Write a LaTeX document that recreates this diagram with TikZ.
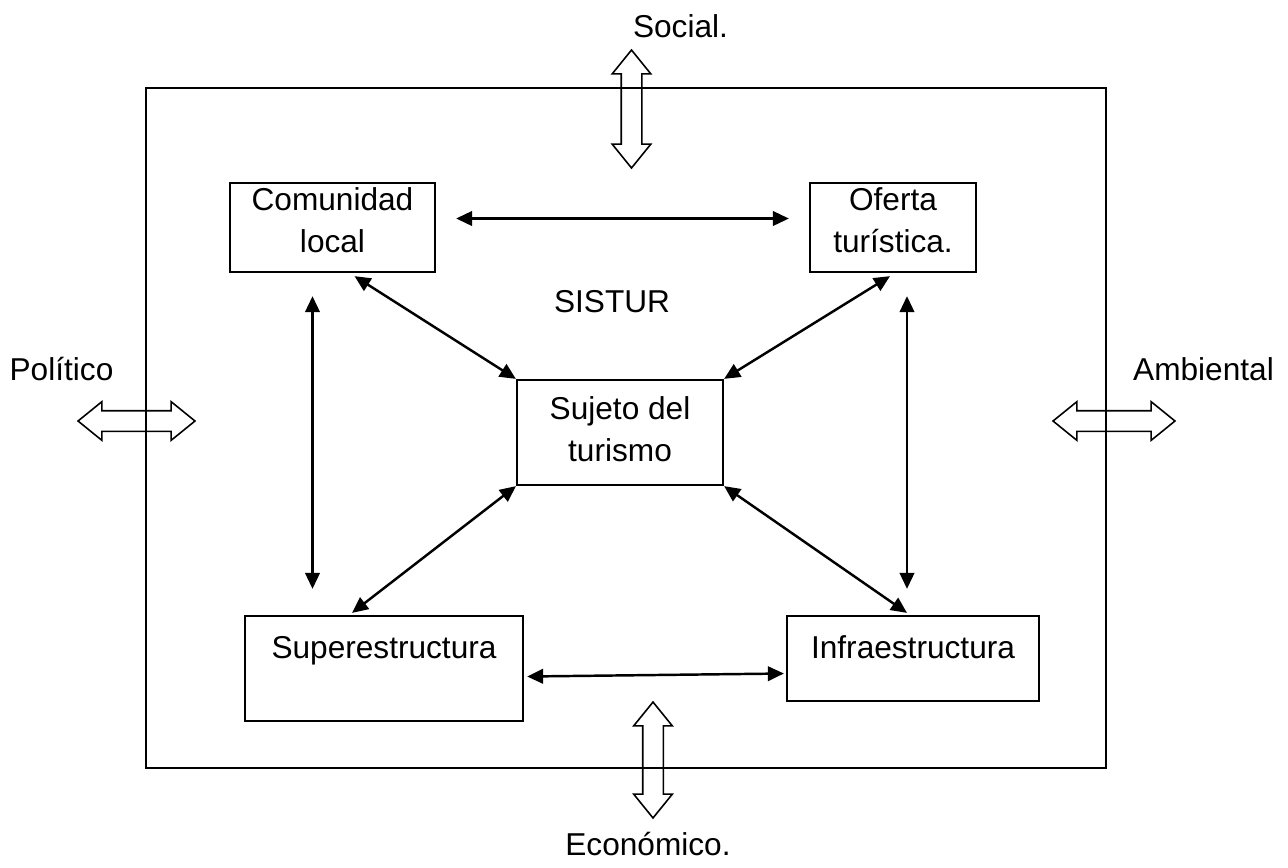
\documentclass[tikz,border=0pt]{standalone}
\usepackage{fontspec}
\setmainfont{Liberation Sans}
\usetikzlibrary{arrows.meta,shapes.arrows,calc}
\tikzset{
  caja/.style={draw, line width=1.3pt, inner sep=0pt, align=center},
  enlace/.style={{Triangle[length=0.32cm,width=0.29cm]}-{Triangle[length=0.32cm,width=0.29cm]}, line width=1.4pt},
  flecha/.style={double arrow, draw, line width=0.9pt, inner xsep=0pt, inner ysep=0.19cm,
    double arrow head extend=0.18cm, double arrow tip angle=78}
}
\begin{document}
\begin{tikzpicture}[x=0.02cm,y=-0.02cm,font=\fontsize{18}{23.9}\selectfont]
\useasboundingbox (0,0) rectangle (1288,867);
\draw[line width=1.1pt] (146,88) rectangle (1106,768);
\node[caja, minimum width=4.1cm, minimum height=1.78cm, text depth=0.28cm] (com) at (332.5,227.5) {Comunidad\\local};
\node[caja, minimum width=3.32cm, minimum height=1.78cm, text depth=0.28cm] (of) at (893,227.5) {Oferta\\turística.};
\node[caja, minimum width=4.12cm, minimum height=2.1cm, text depth=0.12cm] (suj) at (620,432.5) {Sujeto del\\turismo};
\node[caja, minimum width=5.56cm, minimum height=2.1cm, text depth=0.84cm] (sup) at (384,668.5) {Superestructura};
\node[caja, minimum width=5.04cm, minimum height=1.7cm, text depth=0.44cm] (inf) at (913,658.5) {Infraestructura};
\node[anchor=base] (sistur) at (612,312) {SISTUR};
\node[flecha, rotate=90, minimum height=2.36cm] (soc) at (631.5,109) {};
\node[flecha, minimum height=2.34cm] (pol) at (136.5,421) {};
\node[flecha, minimum height=2.44cm] (amb) at (1114,421) {};
\node[flecha, rotate=90, minimum height=2.32cm] (eco) at (653,760) {};
\node[anchor=base] (lsoc) at (680.5,37) {Social.};
\node[anchor=base] (lpol) at (61.5,380) {Político};
\node[anchor=base] (lamb) at (1203.5,380) {Ambiental};
\node[anchor=base] (leco) at (648,855) {Económico.};
\draw[enlace] ($(com.east)+(20,-9)$) -- ($(of.west)+(-20,-9)$);
\draw[enlace] ($(com.south)+(-20,23)$) -- ($(com.south |- sup.north)+(-20,-26)$);
\draw[enlace] ($(of.south)+(14,23)$) -- ($(of.south |- inf.north)+(14,-26)$);
\draw[enlace] ($(com.south)+(22,3)$) -- (suj.north west);
\draw[enlace] ($(of.south)+(-3,3)$) -- (suj.north east);
\draw[enlace] (suj.south west) -- ($(sup.north)+(-32,-2)$);
\draw[enlace] (suj.south east) -- ($(inf.north)+(-6,-2)$);
\draw[enlace] ($(sup.east)+(3,8)$) -- ($(inf.west)+(-2,15)$);
\end{tikzpicture}
\end{document}
